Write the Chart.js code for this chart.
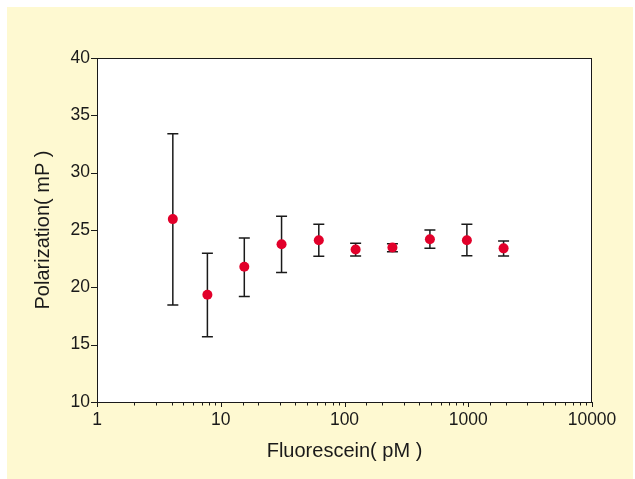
<!DOCTYPE html>
<html>
<head>
<meta charset="utf-8">
<script src="https://cdn.jsdelivr.net/npm/chart.js@4/dist/chart.umd.min.js"></script>
<style>
  html, body { margin: 0; padding: 0; background: #ffffff; }
  #panel {
    position: absolute; left: 7px; top: 7px;
    width: 626px; height: 472px;
    background: #fef9d1;
  }
</style>
</head>
<body>
<div id="panel"><canvas id="fpChart"></canvas></div>
<script>
// Fluorescein concentration (pM)
const concentrations = [4.1, 7.8, 15.5, 31, 62, 123, 244, 490, 975, 1930];
// Mean polarization (mP)
const polarization = [25.95, 19.35, 21.8, 23.75, 24.1, 23.3, 23.47, 24.2, 24.1, 23.4];
// Error bar ends
const errUpper = [33.4, 22.97, 24.3, 26.2, 25.5, 23.84, 23.8, 25.0, 25.5, 24.05];
const errLower = [18.45, 15.7, 19.2, 21.3, 22.7, 22.74, 23.1, 23.4, 22.76, 22.74];

const yTicks = [10, 15, 20, 25, 30, 35, 40];

const inkColor = '#1a1a1a';
const fontFamily = '"Liberation Sans", Arial, Helvetica, sans-serif';

function isDecade(v) {
    const l = Math.log10(v);
    return Math.abs(l - Math.round(l)) < 1e-9;
}

// white plot area on the yellow panel
const plotBgPlugin = {
    id: 'plotBg',
    beforeDraw(chart) {
        const a = chart.chartArea;
        chart.ctx.save();
        chart.ctx.fillStyle = '#ffffff';
        chart.ctx.fillRect(a.left, a.top, a.right - a.left, a.bottom - a.top);
        chart.ctx.restore();
    }
};

// Error bars drawn under the markers
const errorBarsPlugin = {
    id: 'errorBars',
    beforeDatasetsDraw(chart) {
        const ctx = chart.ctx;
        const xs = chart.scales.x, ys = chart.scales.y;
        ctx.save();
        ctx.strokeStyle = inkColor;
        ctx.lineWidth = 1.5;
        concentrations.forEach((c, i) => {
            const px = xs.getPixelForValue(c);
            const top = ys.getPixelForValue(errUpper[i]);
            const bot = ys.getPixelForValue(errLower[i]);
            ctx.beginPath();
            ctx.moveTo(px, top);
            ctx.lineTo(px, bot);
            ctx.moveTo(px - 5.5, top);
            ctx.lineTo(px + 5.5, top);
            ctx.moveTo(px - 5.5, bot);
            ctx.lineTo(px + 5.5, bot);
            ctx.stroke();
        });
        ctx.restore();
    }
};

// Plot frame and outward tick marks (short minor ticks on the log axis)
const frameTicksPlugin = {
    id: 'frameTicks',
    afterDraw(chart) {
        const ctx = chart.ctx;
        const area = chart.chartArea;
        const xs = chart.scales.x, ys = chart.scales.y;
        ctx.save();
        ctx.strokeStyle = inkColor;
        ctx.lineWidth = 1;
        ctx.strokeRect(Math.round(area.left) + 0.5, Math.round(area.top) + 0.5,
            Math.round(area.right - area.left) - 1, Math.round(area.bottom - area.top));
        ctx.beginPath();
        xs.ticks.forEach(t => {
            const px = Math.round(xs.getPixelForValue(t.value)) + 0.5;
            const len = isDecade(t.value) ? 5 : 3.5;
            ctx.moveTo(px, area.bottom);
            ctx.lineTo(px, area.bottom + len);
        });
        ys.ticks.forEach(t => {
            const py = Math.round(ys.getPixelForValue(t.value)) + 0.5;
            ctx.moveTo(area.left, py);
            ctx.lineTo(area.left - 6, py);
        });
        ctx.stroke();
        ctx.restore();
    }
};

const ctx = document.getElementById('fpChart').getContext('2d');
const fpChart = new Chart(ctx, {
    type: 'scatter',
    data: {
        datasets: [{
            label: 'Polarization',
            data: concentrations.map((c, i) => ({ x: c, y: polarization[i] })),
            backgroundColor: '#e2002a',
            borderWidth: 0,
            pointRadius: 5,
            pointHoverRadius: 5
        }]
    },
    options: {
        responsive: true,
        maintainAspectRatio: false,
        animation: false,
        layout: { padding: { top: 51, right: 41, left: 0, bottom: 0 } },
        plugins: {
            legend: { display: false },
            tooltip: { enabled: false }
        },
        scales: {
            x: {
                type: 'logarithmic',
                min: 1,
                max: 10000,
                border: { display: false },
                grid: { display: false, drawTicks: true, tickLength: 5 },
                ticks: {
                    autoSkip: false,
                    maxRotation: 0,
                    padding: 3,
                    color: inkColor,
                    font: { family: fontFamily, size: 17.5 },
                    callback: (v) => isDecade(v) ? String(Math.round(v)) : ''
                },
                title: {
                    display: true,
                    text: 'Fluorescein( pM )',
                    color: inkColor,
                    font: { family: fontFamily, size: 20 },
                    padding: { top: 0, bottom: 16 }
                },
                afterFit(scale) { scale.height = 77; }
            },
            y: {
                min: 10,
                max: 40,
                border: { display: false },
                grid: { display: false, drawTicks: true, tickLength: 6 },
                afterBuildTicks(scale) {
                    scale.ticks = yTicks.map(v => ({ value: v }));
                },
                ticks: {
                    padding: 1,
                    color: inkColor,
                    font: { family: fontFamily, size: 17.5 }
                },
                title: {
                    display: true,
                    text: 'Polarization( mP )',
                    color: inkColor,
                    font: { family: fontFamily, size: 20 },
                    padding: { top: 24, bottom: 0 }
                },
                afterFit(scale) { scale.width = 90; }
            }
        }
    },
    plugins: [plotBgPlugin, errorBarsPlugin, frameTicksPlugin]
});
</script>
</body>
</html>
